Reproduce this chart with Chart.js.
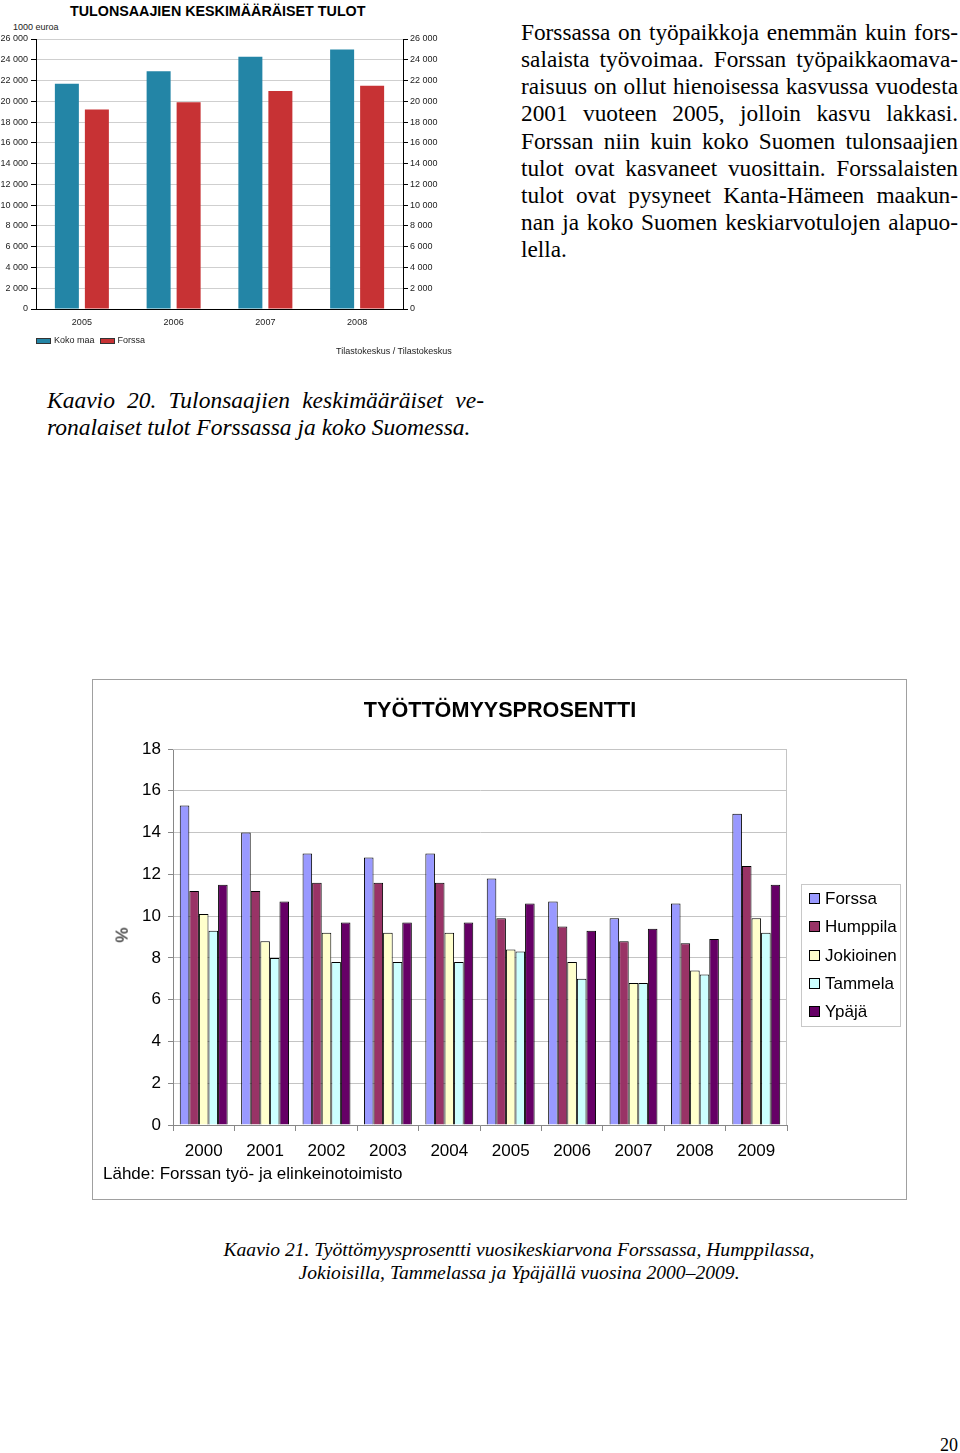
<!DOCTYPE html>
<html>
<head>
<meta charset="utf-8">
<script src="https://cdn.jsdelivr.net/npm/chart.js@4.4.0/dist/chart.umd.min.js"></script>
<style>
  body { margin: 0; background: #fff; width: 960px; height: 1453px; position: relative; overflow: hidden; }
  .abs { position: absolute; }
  .serif { font-family: "Liberation Serif", "Times New Roman", serif; color: #000; }
  .sans { font-family: "Liberation Sans", Arial, sans-serif; color: #000; }
  .jline { width: 437px; height: 27.15px; line-height: 27.15px; text-align: justify; text-align-last: justify; white-space: nowrap; }
  .small { font-family: "Liberation Sans", Arial, sans-serif; font-size: 9px; color: #222; white-space: nowrap; }
</style>
</head>
<body>

<!-- top chart -->
<div class="abs sans" style="left:70px; top:3px; font-size:14.3px; font-weight:bold; white-space:nowrap;">TULONSAAJIEN KESKIMÄÄRÄISET TULOT</div>
<div class="abs small" style="left:13px; top:22px;">1000 euroa</div>
<canvas id="tulot" class="abs" style="left:0; top:0;" width="470" height="360"></canvas>
<div id="tulotLegend" class="abs small" style="left:36px; top:335px;"></div>
<div class="abs small" style="left:336px; top:346px;">Tilastokeskus / Tilastokeskus</div>

<!-- text column -->
<div class="abs serif" style="left:521px; top:19px; font-size:23.3px;">
  <div class="jline">Forssassa on työpaikkoja enemmän kuin fors-</div>
  <div class="jline">salaista työvoimaa. Forssan työpaikkaomava-</div>
  <div class="jline">raisuus on ollut hienoisessa kasvussa vuodesta</div>
  <div class="jline">2001 vuoteen 2005, jolloin kasvu lakkasi.</div>
  <div class="jline">Forssan niin kuin koko Suomen tulonsaajien</div>
  <div class="jline">tulot ovat kasvaneet vuosittain. Forssalaisten</div>
  <div class="jline">tulot ovat pysyneet Kanta-Hämeen maakun-</div>
  <div class="jline">nan ja koko Suomen keskiarvotulojen alapuo-</div>
  <div class="jline" style="text-align-last:left;">lella.</div>
</div>

<div class="abs serif" style="left:47px; top:387px; font-size:23.5px; font-style:italic;">
  <div class="jline">Kaavio 20. Tulonsaajien keskimääräiset ve-</div>
  <div class="jline" style="text-align-last:left;">ronalaiset tulot Forssassa ja koko Suomessa.</div>
</div>

<!-- bottom chart -->
<div class="abs" style="left:92px; top:679px; width:813px; height:519px; border:1px solid #a0a0a0;"></div>
<canvas id="tyottomyys" class="abs" style="left:93px; top:680px;" width="813" height="519"></canvas>
<div class="abs sans" style="left:0; width:1000px; top:697px; text-align:center; font-size:21.6px; font-weight:bold;">TYÖTTÖMYYSPROSENTTI</div>
<div class="abs sans" style="left:115px; top:925px; font-size:17px; transform:rotate(-90deg);">%</div>
<div class="abs sans" style="left:103px; top:1164px; font-size:17px; white-space:nowrap;">Lähde: Forssan työ- ja elinkeinotoimisto</div>
<div id="tyoLegend" class="abs sans" style="left:801px; top:884px; width:98px; height:141px; border:1px solid #c8c8c8; font-size:17px;"></div>

<div class="abs serif" style="left:0; width:1038px; top:1238px; font-size:19.6px; font-style:italic; text-align:center; line-height:23px;">
  Kaavio 21. Työttömyysprosentti vuosikeskiarvona Forssassa, Humppilassa,<br>
  Jokioisilla, Tammelassa ja Ypäjällä vuosina 2000–2009.
</div>

<div class="abs serif" style="left:940px; top:1435px; font-size:18px;">20</div>

<script>
// tulonsaajien keskimääräiset tulot
const tulotYears = ['2005', '2006', '2007', '2008'];
const kokoMaa = [21700, 22900, 24300, 25000];
const forssaTulot = [19200, 19900, 21000, 21500];
const tulotNames = ['Koko maa', 'Forssa'];
const tulotColors = ['#2385a6', '#c73234'];

// työttömyysprosentti
const years = ['2000', '2001', '2002', '2003', '2004', '2005', '2006', '2007', '2008', '2009'];
const forssa    = [15.3, 14.0, 13.0, 12.8, 13.0, 11.8, 10.7, 9.9, 10.6, 14.9];
const humppila  = [11.2, 11.2, 11.6, 11.6, 11.6, 9.9, 9.5, 8.8, 8.7, 12.4];
const jokioinen = [10.1, 8.8, 9.2, 9.2, 9.2, 8.4, 7.8, 6.8, 7.4, 9.9];
const tammela   = [9.3, 8.0, 7.8, 7.8, 7.8, 8.3, 7.0, 6.8, 7.2, 9.2];
const ypaja     = [11.5, 10.7, 9.7, 9.7, 9.7, 10.6, 9.3, 9.4, 8.9, 11.5];
const tyoNames = ['Forssa', 'Humppila', 'Jokioinen', 'Tammela', 'Ypäjä'];
const tyoColors = ['#9999ff', '#993366', '#ffffcc', '#ccffff', '#660066'];

Chart.defaults.font.family = '"Liberation Sans", Arial, sans-serif';
Chart.defaults.color = '#000';

function euroTick(v) {
  if (v === 0) return '0';
  return Math.floor(v / 1000) + ' ' + String(v % 1000).padStart(3, '0');
}

new Chart(document.getElementById('tulot'), {
  type: 'bar',
  data: {
    labels: tulotYears,
    datasets: [
      { label: tulotNames[0], data: kokoMaa, backgroundColor: tulotColors[0] },
      { label: tulotNames[1], data: forssaTulot, backgroundColor: tulotColors[1] }
    ]
  },
  options: {
    responsive: false,
    animation: false,
    categoryPercentage: 0.654,
    barPercentage: 0.8,
    layout: { padding: { top: 39, left: 0, right: 0, bottom: 0 } },
    plugins: { legend: { display: false }, tooltip: { enabled: false } },
    scales: {
      x: {
        afterFit: s => { s.height = 51; },
        grid: { display: false },
        border: { color: '#000' },
        ticks: { font: { size: 9 }, color: '#222', padding: 0 }
      },
      y: {
        min: 0, max: 26000,
        afterFit: s => { s.width = 36; },
        ticks: { stepSize: 2000, font: { size: 9 }, color: '#222', padding: 3, callback: euroTick },
        grid: { color: '#cfcfcf', tickColor: '#000', tickLength: 5 },
        border: { color: '#000' }
      },
      y2: {
        position: 'right',
        min: 0, max: 26000,
        afterFit: s => { s.width = 67; },
        ticks: { stepSize: 2000, font: { size: 9 }, color: '#222', padding: 2, callback: euroTick },
        grid: { drawOnChartArea: false, tickColor: '#000', tickLength: 5 },
        border: { color: '#000' }
      }
    }
  }
});

document.getElementById('tulotLegend').innerHTML = tulotNames.map((n, i) =>
  '<span style="display:inline-block;width:13px;height:4px;border:1px solid #333;background:' + tulotColors[i] +
  ';vertical-align:middle;margin-right:3px;"></span><span style="margin-right:5px;">' + n + '</span>'
).join('');

const plotFrame = {
  id: 'plotFrame',
  afterDatasetsDraw(chart) {
    const a = chart.chartArea;
    const c = chart.ctx;
    c.save();
    c.strokeStyle = '#c4c4c4';
    c.lineWidth = 1;
    c.beginPath();
    c.moveTo(a.left, a.top + 0.5);
    c.lineTo(a.right - 0.5, a.top + 0.5);
    c.lineTo(a.right - 0.5, a.bottom);
    c.stroke();
    c.restore();
  }
};

const tyoSeries = [forssa, humppila, jokioinen, tammela, ypaja];

new Chart(document.getElementById('tyottomyys'), {
  type: 'bar',
  data: {
    labels: years,
    datasets: tyoSeries.map((d, i) => ({
      label: tyoNames[i],
      data: d,
      backgroundColor: tyoColors[i],
      borderColor: '#000',
      borderWidth: 1
    }))
  },
  options: {
    responsive: false,
    animation: false,
    categoryPercentage: 0.78,
    barPercentage: 1.0,
    layout: { padding: { top: 69, left: 30, right: 119, bottom: 34 } },
    plugins: { legend: { display: false }, tooltip: { enabled: false } },
    scales: {
      x: {
        afterFit: s => { s.height = 40; },
        grid: { offset: true, drawOnChartArea: false, color: '#888', tickLength: 6 },
        border: { color: '#888' },
        ticks: { font: { size: 17 }, padding: 10 }
      },
      y: {
        min: 0, max: 18,
        afterFit: s => { s.width = 50; },
        ticks: { stepSize: 2, font: { size: 17 }, padding: 7 },
        grid: { color: '#c4c4c4', tickColor: '#888', tickLength: 5 },
        border: { color: '#888' }
      }
    }
  },
  plugins: [plotFrame]
});

document.getElementById('tyoLegend').innerHTML = tyoNames.map((n, i) =>
  '<div style="height:28.3px;line-height:28.3px;white-space:nowrap;">' +
  '<span style="display:inline-block;width:9px;height:9px;border:1px solid #000;background:' + tyoColors[i] +
  ';margin:0 5px 0 7px;vertical-align:middle;position:relative;top:-1px;"></span>' + n + '</div>'
).join('');
</script>
</body>
</html>
